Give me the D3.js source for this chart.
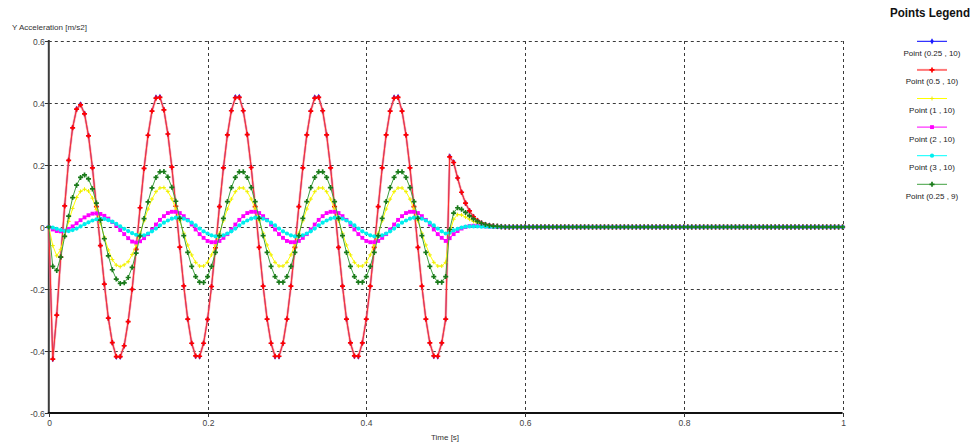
<!DOCTYPE html>
<html>
<head>
<meta charset="utf-8">
<script src="https://cdn.jsdelivr.net/npm/d3@7"></script>
<style>
  html, body { margin: 0; padding: 0; background: #fff; }
  svg { display: block; font-family: "Liberation Sans", Arial, sans-serif; }
</style>
</head>
<body>
<svg id="chart" width="976" height="444"></svg>
<script>
// Sampling interval of the recorded accelerations [s]
const sampleStep = 0.005;

const xTickValues = [0, 0.2, 0.4, 0.6, 0.8, 1];
const yTickValues = [-0.6, -0.4, -0.2, 0, 0.2, 0.4, 0.6];

const seriesLabels = [
  "Point (0.25 , 10)", "Point (0.5 , 10)", "Point (1 , 10)",
  "Point (2 , 10)", "Point (3 , 10)", "Point (0.25 , 9)"
];

// Y acceleration [m/s2] per monitoring point, one value per sample
const point025_10 = [
  0, -0.426, -0.284, -0.097, 0.068, 0.215, 0.320, 0.381, 0.396, 0.366, 0.295, 0.191, 0.066, -0.060, -0.184, -0.294, -0.373, -0.419, -0.419, -0.383,
  -0.305, -0.201, -0.072, 0.062, 0.189, 0.296, 0.375, 0.418, 0.420, 0.378, 0.300, 0.193, 0.067, -0.065, -0.190, -0.297, -0.375, -0.417, -0.418, -0.375,
  -0.298, -0.192, -0.067, 0.066, 0.191, 0.297, 0.376, 0.419, 0.420, 0.375, 0.298, 0.192, 0.066, -0.066, -0.191, -0.297, -0.375, -0.418, -0.418, -0.375,
  -0.297, -0.191, -0.066, 0.066, 0.191, 0.297, 0.375, 0.418, 0.420, 0.375, 0.297, 0.191, 0.066, -0.066, -0.191, -0.297, -0.374, -0.417, -0.418, -0.374,
  -0.297, -0.191, -0.066, 0.066, 0.191, 0.297, 0.375, 0.418, 0.420, 0.374, 0.297, 0.191, 0.066, -0.066, -0.191, -0.297, -0.374, -0.417, -0.418, -0.374,
  -0.297, 0.228, 0.209, 0.158, 0.112, 0.077, 0.052, 0.033, 0.021, 0.013, 0.008, 0.005, 0.003, 0.002, 0.001, 0, 0, 0, 0, 0,
  0, 0, 0, 0, 0, 0, 0, 0, 0, 0, 0, 0, 0, 0, 0, 0, 0, 0, 0, 0,
  0, 0, 0, 0, 0, 0, 0, 0, 0, 0, 0, 0, 0, 0, 0, 0, 0, 0, 0, 0,
  0, 0, 0, 0, 0, 0, 0, 0, 0, 0, 0, 0, 0, 0, 0, 0, 0, 0, 0, 0,
  0, 0, 0, 0, 0, 0, 0, 0, 0, 0, 0, 0, 0, 0, 0, 0, 0, 0, 0, 0,
  0
];

const point05_10 = [
  0, -0.426, -0.284, -0.097, 0.068, 0.215, 0.320, 0.380, 0.394, 0.365, 0.294, 0.191, 0.066, -0.060, -0.184, -0.294, -0.373, -0.418, -0.418, -0.383,
  -0.305, -0.201, -0.072, 0.062, 0.189, 0.296, 0.374, 0.416, 0.418, 0.378, 0.300, 0.193, 0.067, -0.065, -0.190, -0.297, -0.375, -0.416, -0.417, -0.375,
  -0.298, -0.192, -0.067, 0.066, 0.191, 0.297, 0.375, 0.417, 0.418, 0.375, 0.298, 0.192, 0.066, -0.066, -0.191, -0.297, -0.375, -0.417, -0.417, -0.375,
  -0.297, -0.191, -0.066, 0.066, 0.191, 0.297, 0.374, 0.416, 0.418, 0.375, 0.297, 0.191, 0.066, -0.066, -0.191, -0.297, -0.374, -0.416, -0.417, -0.374,
  -0.297, -0.191, -0.066, 0.066, 0.191, 0.297, 0.374, 0.416, 0.418, 0.374, 0.297, 0.191, 0.066, -0.066, -0.191, -0.297, -0.374, -0.416, -0.417, -0.374,
  -0.297, 0.226, 0.208, 0.158, 0.112, 0.077, 0.052, 0.033, 0.021, 0.013, 0.008, 0.005, 0.003, 0.002, 0.001, 0, 0, 0, 0, 0,
  0, 0, 0, 0, 0, 0, 0, 0, 0, 0, 0, 0, 0, 0, 0, 0, 0, 0, 0, 0,
  0, 0, 0, 0, 0, 0, 0, 0, 0, 0, 0, 0, 0, 0, 0, 0, 0, 0, 0, 0,
  0, 0, 0, 0, 0, 0, 0, 0, 0, 0, 0, 0, 0, 0, 0, 0, 0, 0, 0, 0,
  0, 0, 0, 0, 0, 0, 0, 0, 0, 0, 0, 0, 0, 0, 0, 0, 0, 0, 0, 0,
  0
];

const point1_10 = [
  0, -0.060, -0.093, -0.072, -0.028, 0.018, 0.060, 0.095, 0.115, 0.122, 0.116, 0.093, 0.056, 0.012, -0.033, -0.074, -0.105, -0.123, -0.128, -0.122,
  -0.112, -0.089, -0.058, -0.020, 0.020, 0.058, 0.090, 0.114, 0.126, 0.127, 0.115, 0.091, 0.058, 0.020, -0.020, -0.058, -0.090, -0.114, -0.126, -0.126,
  -0.114, -0.090, -0.058, -0.020, 0.020, 0.058, 0.090, 0.114, 0.126, 0.126, 0.114, 0.090, 0.058, 0.020, -0.020, -0.058, -0.090, -0.114, -0.126, -0.126,
  -0.114, -0.090, -0.058, -0.020, 0.020, 0.058, 0.090, 0.114, 0.126, 0.126, 0.114, 0.090, 0.058, 0.020, -0.020, -0.058, -0.090, -0.114, -0.126, -0.126,
  -0.114, -0.090, -0.058, -0.020, 0.020, 0.058, 0.090, 0.114, 0.126, 0.126, 0.114, 0.090, 0.058, 0.020, -0.020, -0.058, -0.090, -0.114, -0.126, -0.126,
  -0.114, -0.022, 0.025, 0.040, 0.039, 0.032, 0.025, 0.018, 0.013, 0.009, 0.006, 0.004, 0.002, 0.001, 0, 0, 0, 0, 0, 0,
  0, 0, 0, 0, 0, 0, 0, 0, 0, 0, 0, 0, 0, 0, 0, 0, 0, 0, 0, 0,
  0, 0, 0, 0, 0, 0, 0, 0, 0, 0, 0, 0, 0, 0, 0, 0, 0, 0, 0, 0,
  0, 0, 0, 0, 0, 0, 0, 0, 0, 0, 0, 0, 0, 0, 0, 0, 0, 0, 0, 0,
  0, 0, 0, 0, 0, 0, 0, 0, 0, 0, 0, 0, 0, 0, 0, 0, 0, 0, 0, 0,
  0
];

const point2_10 = [
  0, -0.008, -0.013, -0.014, -0.012, -0.006, 0.002, 0.012, 0.022, 0.031, 0.038, 0.043, 0.044, 0.042, 0.036, 0.027, 0.016, 0.004, -0.010, -0.023,
  -0.036, -0.047, -0.050, -0.046, -0.036, -0.023, -0.008, 0.008, 0.023, 0.035, 0.045, 0.049, 0.049, 0.045, 0.035, 0.023, 0.008, -0.008, -0.023, -0.035,
  -0.045, -0.049, -0.049, -0.045, -0.035, -0.023, -0.008, 0.008, 0.023, 0.035, 0.045, 0.049, 0.049, 0.045, 0.035, 0.023, 0.008, -0.008, -0.023, -0.035,
  -0.045, -0.049, -0.049, -0.045, -0.035, -0.023, -0.008, 0.008, 0.023, 0.035, 0.045, 0.049, 0.049, 0.045, 0.035, 0.023, 0.008, -0.008, -0.023, -0.035,
  -0.045, -0.049, -0.049, -0.045, -0.035, -0.023, -0.008, 0.008, 0.023, 0.035, 0.045, 0.049, 0.049, 0.045, 0.035, 0.023, 0.008, -0.008, -0.023, -0.035,
  -0.045, -0.036, -0.023, -0.013, -0.005, 0.000, 0.003, 0.004, 0.004, 0.003, 0.002, 0.001, 0.001, 0, 0, 0, 0, 0, 0, 0,
  0, 0, 0, 0, 0, 0, 0, 0, 0, 0, 0, 0, 0, 0, 0, 0, 0, 0, 0, 0,
  0, 0, 0, 0, 0, 0, 0, 0, 0, 0, 0, 0, 0, 0, 0, 0, 0, 0, 0, 0,
  0, 0, 0, 0, 0, 0, 0, 0, 0, 0, 0, 0, 0, 0, 0, 0, 0, 0, 0, 0,
  0, 0, 0, 0, 0, 0, 0, 0, 0, 0, 0, 0, 0, 0, 0, 0, 0, 0, 0, 0,
  0
];

const point3_10 = [
  0, -0.002, -0.006, -0.010, -0.013, -0.013, -0.010, -0.005, 0.002, 0.009, 0.015, 0.021, 0.025, 0.027, 0.026, 0.022, 0.017, 0.010, 0.002, -0.006,
  -0.013, -0.020, -0.025, -0.028, -0.027, -0.021, -0.014, -0.005, 0.005, 0.014, 0.021, 0.027, 0.030, 0.030, 0.027, 0.021, 0.014, 0.005, -0.005, -0.014,
  -0.021, -0.027, -0.030, -0.030, -0.027, -0.021, -0.014, -0.005, 0.005, 0.014, 0.021, 0.027, 0.030, 0.030, 0.027, 0.021, 0.014, 0.005, -0.005, -0.014,
  -0.021, -0.027, -0.030, -0.030, -0.027, -0.021, -0.014, -0.005, 0.005, 0.014, 0.021, 0.027, 0.030, 0.030, 0.027, 0.021, 0.014, 0.005, -0.005, -0.014,
  -0.021, -0.027, -0.030, -0.030, -0.027, -0.021, -0.014, -0.005, 0.005, 0.014, 0.021, 0.027, 0.030, 0.030, 0.027, 0.021, 0.014, 0.005, -0.005, -0.014,
  -0.021, -0.018, -0.011, -0.006, -0.002, 0.001, 0.002, 0.002, 0.002, 0.001, 0.001, 0, 0, 0, 0, 0, 0, 0, 0, 0,
  0, 0, 0, 0, 0, 0, 0, 0, 0, 0, 0, 0, 0, 0, 0, 0, 0, 0, 0, 0,
  0, 0, 0, 0, 0, 0, 0, 0, 0, 0, 0, 0, 0, 0, 0, 0, 0, 0, 0, 0,
  0, 0, 0, 0, 0, 0, 0, 0, 0, 0, 0, 0, 0, 0, 0, 0, 0, 0, 0, 0,
  0, 0, 0, 0, 0, 0, 0, 0, 0, 0, 0, 0, 0, 0, 0, 0, 0, 0, 0, 0,
  0
];

const point025_9 = [
  0, -0.127, -0.140, -0.097, -0.030, 0.035, 0.095, 0.135, 0.160, 0.168, 0.155, 0.123, 0.077, 0.022, -0.038, -0.093, -0.138, -0.168, -0.182, -0.180,
  -0.163, -0.130, -0.084, -0.029, 0.027, 0.081, 0.126, 0.160, 0.178, 0.179, 0.161, 0.128, 0.083, 0.028, -0.028, -0.082, -0.127, -0.160, -0.178, -0.179,
  -0.160, -0.127, -0.082, -0.028, 0.028, 0.082, 0.127, 0.160, 0.178, 0.178, 0.160, 0.127, 0.082, 0.028, -0.028, -0.082, -0.127, -0.160, -0.178, -0.178,
  -0.160, -0.127, -0.082, -0.028, 0.028, 0.082, 0.127, 0.160, 0.178, 0.178, 0.160, 0.127, 0.082, 0.028, -0.028, -0.082, -0.127, -0.160, -0.178, -0.178,
  -0.160, -0.127, -0.082, -0.028, 0.028, 0.082, 0.127, 0.160, 0.178, 0.178, 0.160, 0.127, 0.082, 0.028, -0.028, -0.082, -0.127, -0.160, -0.178, -0.178,
  -0.160, -0.008, 0.045, 0.062, 0.057, 0.047, 0.036, 0.026, 0.018, 0.012, 0.008, 0.005, 0.003, 0.002, 0.001, 0, 0, 0, 0, 0,
  0, 0, 0, 0, 0, 0, 0, 0, 0, 0, 0, 0, 0, 0, 0, 0, 0, 0, 0, 0,
  0, 0, 0, 0, 0, 0, 0, 0, 0, 0, 0, 0, 0, 0, 0, 0, 0, 0, 0, 0,
  0, 0, 0, 0, 0, 0, 0, 0, 0, 0, 0, 0, 0, 0, 0, 0, 0, 0, 0, 0,
  0, 0, 0, 0, 0, 0, 0, 0, 0, 0, 0, 0, 0, 0, 0, 0, 0, 0, 0, 0,
  0
];

// Drawing styles for each monitoring point
const styles = [
  { line: "#0000ff", width: 1, marker: "diamond", fill: "#1a1aff" },
  { line: "#ff3030", width: 1, halo: "rgba(255,130,130,0.55)", marker: "cross", fill: "#ff0000" },
  { line: "#ffff00", width: 1, marker: "plus", fill: "#eeee00" },
  { line: "#ff00ff", width: 1, marker: "square", fill: "#ff00ff" },
  { line: "#00ffff", width: 1, marker: "circle", fill: "#00eeee" },
  { line: "#40a040", width: 1, marker: "cross", fill: "#1a7a1a" }
];

const seriesValues = [point025_10, point05_10, point1_10, point2_10, point3_10, point025_9];
const series = seriesValues.map((vals, i) => ({
  label: seriesLabels[i],
  style: styles[i],
  points: vals.map((v, k) => ({ t: k * sampleStep, v }))
}));

const svg = d3.select("#chart");
const x = d3.scaleLinear().domain([0, 1]).range([48.8, 842.6]);
const y = d3.scaleLinear().domain([-0.6, 0.6]).range([413, 41]);

// Dashed grid
const grid = svg.append("g");
yTickValues.filter(v => v !== -0.6).forEach(v => {
  const py = Math.round(y(v)) + 0.5;
  grid.append("line").attr("x1", x(0)).attr("x2", x(1)).attr("y1", py).attr("y2", py)
    .attr("stroke", "#3a3a3a").attr("stroke-width", 1).attr("stroke-dasharray", "3,3");
});
xTickValues.filter(v => v !== 0).forEach(v => {
  const px = Math.round(x(v)) + 0.5;
  grid.append("line").attr("x1", px).attr("x2", px).attr("y1", y(0.6)).attr("y2", y(-0.6))
    .attr("stroke", "#3a3a3a").attr("stroke-width", 1).attr("stroke-dasharray", "3,3");
});

// Axes
const axes = svg.append("g");
axes.append("line").attr("x1", x(0)).attr("x2", x(0)).attr("y1", y(0.6) - 1).attr("y2", y(-0.6) + 1)
  .attr("stroke", "#3c3c3c").attr("stroke-width", 2);
axes.append("line").attr("x1", x(0) - 1).attr("x2", x(1)).attr("y1", y(-0.6)).attr("y2", y(-0.6))
  .attr("stroke", "#111").attr("stroke-width", 2);

const fmt = v => String(Math.round(v * 10) / 10);
yTickValues.forEach(v => {
  const py = Math.round(y(v)) + 0.5;
  axes.append("line").attr("x1", x(0) - 4).attr("x2", x(0)).attr("y1", py).attr("y2", py)
    .attr("stroke", "#333").attr("stroke-width", 1);
  axes.append("text").attr("x", x(0) - 4).attr("y", py + 3)
    .attr("text-anchor", "end").attr("font-size", 8.5).attr("fill", "#444").text(fmt(v));
});
xTickValues.forEach(v => {
  const px = Math.round(x(v)) + 0.5;
  axes.append("line").attr("x1", px).attr("x2", px).attr("y1", y(-0.6)).attr("y2", y(-0.6) + 4)
    .attr("stroke", "#333").attr("stroke-width", 1);
  axes.append("text").attr("x", px).attr("y", 426)
    .attr("text-anchor", "middle").attr("font-size", 8.5).attr("fill", "#444").text(fmt(v));
});

svg.append("text").attr("x", 12).attr("y", 30).attr("font-size", 8).attr("fill", "#333")
  .text("Y Acceleration [m/s2]");
svg.append("text").attr("x", 445).attr("y", 440).attr("text-anchor", "middle")
  .attr("font-size", 8).attr("fill", "#333").text("Time [s]");

// Marker drawing
function drawMarker(g, kind, fill, cx, cy) {
  if (kind === "plus") {
    g.append("path").attr("d", `M${cx - 2},${cy}H${cx + 2}M${cx},${cy - 2}V${cy + 2}`)
      .attr("stroke", fill).attr("stroke-width", 1);
    return;
  }
  const sym = { diamond: d3.symbolDiamond, cross: d3.symbolCross, square: d3.symbolSquare, circle: d3.symbolCircle }[kind];
  const size = { diamond: 11, cross: 14, square: 15, circle: 14 }[kind];
  g.append("path").attr("d", d3.symbol(sym, size)()).attr("transform", `translate(${cx},${cy})`)
    .attr("fill", fill);
}

const line = d3.line().x(d => x(d.t)).y(d => y(d.v));
const plot = svg.append("g");
series.forEach(s => {
  const g = plot.append("g");
  if (s.style.halo) {
    g.append("path").datum(s.points).attr("d", line).attr("fill", "none")
      .attr("stroke", s.style.halo).attr("stroke-width", 2.6);
  }
  g.append("path").datum(s.points).attr("d", line).attr("fill", "none")
    .attr("stroke", s.style.line).attr("stroke-width", s.style.width);
  s.points.forEach(p => drawMarker(g, s.style.marker, s.style.fill, x(p.t), y(p.v)));
});

// Legend
const legend = svg.append("g");
legend.append("text").attr("x", 890).attr("y", 17).attr("font-size", 12.5).attr("font-weight", "bold")
  .attr("fill", "#111").attr("textLength", 80).attr("lengthAdjust", "spacingAndGlyphs").text("Points Legend");
series.forEach((s, i) => {
  const ly = 41.3 + i * 28.6;
  legend.append("line").attr("x1", 917).attr("x2", 947).attr("y1", ly).attr("y2", ly)
    .attr("stroke", s.style.halo ? "#ff7878" : s.style.line).attr("stroke-width", s.style.halo ? 2 : 1);
  drawMarker(legend, s.style.marker, s.style.fill, 932, ly);
  legend.append("text").attr("x", 932).attr("y", ly + 14.5).attr("text-anchor", "middle")
    .attr("font-size", 8).attr("fill", "#222").text(s.label);
});
</script>
</body>
</html>
